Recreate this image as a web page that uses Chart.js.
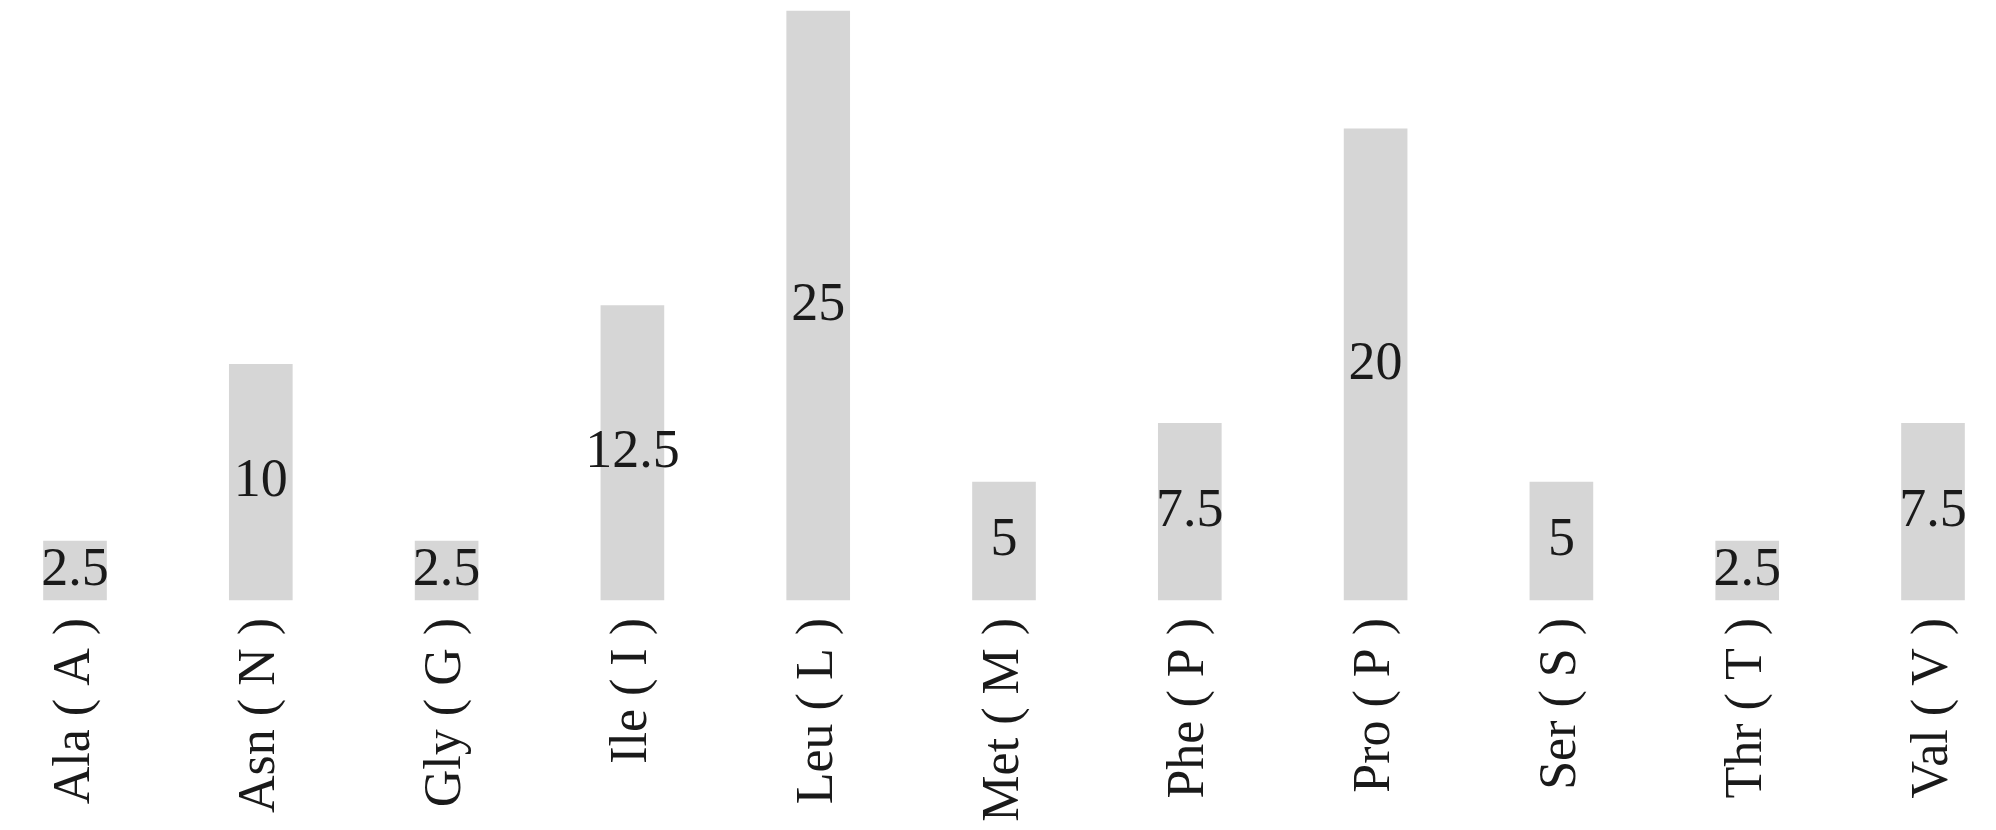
<!DOCTYPE html>
<html>
<head>
<meta charset="utf-8">
<script src="https://cdn.jsdelivr.net/npm/chart.js@4/dist/chart.umd.min.js"></script>
<style>
  html, body { margin: 0; padding: 0; background: #ffffff; }
  #wrap { width: 1996px; height: 830px; }
</style>
</head>
<body>
<div id="wrap"><canvas id="c" width="1996" height="830"></canvas></div>
<script>
const categories = ["Ala ( A )", "Asn ( N )", "Gly ( G )", "Ile ( I )", "Leu ( L )", "Met ( M )", "Phe ( P )", "Pro ( P )", "Ser ( S )", "Thr ( T )", "Val ( V )"];
const values = [2.5, 10, 2.5, 12.5, 25, 5, 7.5, 20, 5, 2.5, 7.5];
const valueLabels = ["2.5", "10", "2.5", "12.5", "25", "5", "7.5", "20", "5", "2.5", "7.5"];

const serif = "'Liberation Serif', 'Times New Roman', serif";

const centerLabels = {
  id: 'centerLabels',
  afterDatasetsDraw(chart) {
    const ctx = chart.ctx;
    const meta = chart.getDatasetMeta(0);
    ctx.save();
    ctx.font = "54px " + serif;
    ctx.fillStyle = "#1a1a1a";
    ctx.textAlign = "center";
    ctx.textBaseline = "middle";
    meta.data.forEach((bar, i) => {
      const p = bar.getProps(['x', 'y', 'base'], true);
      ctx.fillText(valueLabels[i], p.x, (p.y + p.base) / 2);
    });
    ctx.restore();
  }
};

new Chart(document.getElementById('c'), {
  type: 'bar',
  data: {
    labels: categories,
    datasets: [{
      data: values,
      backgroundColor: '#d6d6d6',
      borderWidth: 0,
      barThickness: 63,
      clip: false
    }]
  },
  options: {
    responsive: false,
    animation: false,
    devicePixelRatio: 1,
    layout: { padding: { left: 75, right: 63, top: 11, bottom: 0 } },
    plugins: { legend: { display: false }, tooltip: { enabled: false } },
    scales: {
      x: {
        offset: false,
        grid: { display: false, drawTicks: false },
        border: { display: false },
        ticks: {
          autoSkip: false,
          minRotation: 90,
          maxRotation: 90,
          padding: 18,
          color: '#1a1a1a',
          font: { family: serif, size: 52 }
        },
        afterFit(scale) {
          scale.height = 230;
          scale.paddingLeft = 0;
          scale.paddingRight = 0;
        }
      },
      y: {
        display: false,
        min: 0,
        max: 25
      }
    }
  },
  plugins: [centerLabels]
});
</script>
</body>
</html>
